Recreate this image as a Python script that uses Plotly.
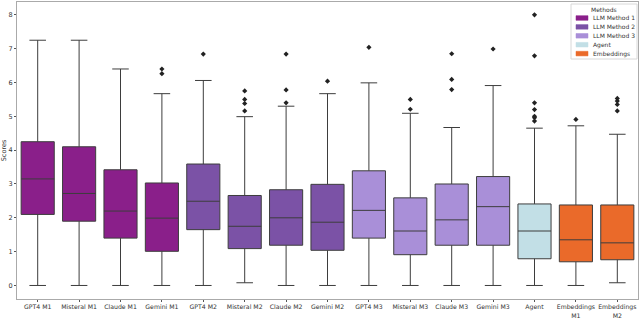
import plotly.graph_objects as go

categories = ["GPT4 M1", "Misteral M1", "Claude M1", "Gemini M1",
              "GPT4 M2", "Misteral M2", "Claude M2", "Gemini M2",
              "GPT4 M3", "Misteral M3", "Claude M3", "Gemini M3",
              "Agent", "Embeddings M1", "Embeddings M2"]
tick_labels = ["GPT4 M1", "Misteral M1", "Claude M1", "Gemini M1",
               "GPT4 M2", "Misteral M2", "Claude M2", "Gemini M2",
               "GPT4 M3", "Misteral M3", "Claude M3", "Gemini M3",
               "Agent", "Embeddings<br>M1", "Embeddings<br>M2"]
methods = ["LLM Method 1"] * 4 + ["LLM Method 2"] * 4 + ["LLM Method 3"] * 4 + ["Agent", "Embeddings", "Embeddings"]
legend_names = ["LLM Method 1", "LLM Method 2", "LLM Method 3", "Agent", "Embeddings"]

q1 = [2.10, 1.90, 1.40, 1.01, 1.65, 1.09, 1.19, 1.04, 1.40, 0.91, 1.19, 1.19, 0.79, 0.70, 0.76]
median = [3.15, 2.72, 2.20, 1.99, 2.49, 1.75, 2.00, 1.87, 2.22, 1.61, 1.94, 2.33, 1.61, 1.35, 1.26]
q3 = [4.25, 4.10, 3.42, 3.03, 3.59, 2.66, 2.83, 2.99, 3.39, 2.59, 3.00, 3.22, 2.41, 2.38, 2.38]
lower = [0.0, 0.0, 0.0, 0.0, 0.0, 0.08, 0.0, 0.0, 0.0, 0.0, 0.0, 0.0, 0.0, 0.0, 0.08]
upper = [7.25, 7.25, 6.40, 5.67, 6.06, 4.99, 5.30, 5.67, 5.99, 5.09, 4.67, 5.91, 4.65, 4.72, 4.47]
outliers = [[], [], [], [6.40, 6.26], [6.84], [5.75, 5.50, 5.38, 5.16],
            [6.84, 5.78, 5.40], [6.04], [7.04], [5.50, 5.21],
            [6.85, 6.09, 5.79], [6.99], [8.00, 6.79, 5.40, 5.20, 5.00, 4.96, 4.86],
            [4.91], [5.53, 5.45, 5.35, 5.16]]

colors = {"LLM Method 1": "#8a1f8a", "LLM Method 2": "#7b52a6", "LLM Method 3": "#a98fd8",
          "Agent": "#c2dfe6", "Embeddings": "#ea6a2a"}

W, H = 640, 318
ML, MR, MT, MB = 17, 2, 2, 19
PW, PH = W - ML - MR, H - MT - MB


def px(x):
    return (x - ML) / PW


def py(y):
    return (H - MB - y) / PH


fig = go.Figure()
for i, cat in enumerate(categories):
    m = methods[i]
    fig.add_trace(go.Box(
        x=[cat], q1=[q1[i]], median=[median[i]], q3=[q3[i]],
        lowerfence=[lower[i]], upperfence=[upper[i]],
        name=m, showlegend=False,
        fillcolor=colors[m], line=dict(color="#3d3d3d", width=1),
        width=0.8, whiskerwidth=0.5, boxpoints=False,
    ))
    if outliers[i]:
        fig.add_trace(go.Scatter(
            x=[cat] * len(outliers[i]), y=outliers[i], mode="markers",
            marker=dict(symbol="diamond", size=4, color="#222222"),
            showlegend=False, hoverinfo="y",
        ))

# manual legend (matplotlib-like compact legend)
shapes = [dict(type="rect", xref="paper", yref="paper",
               x0=px(571), x1=px(637), y0=py(59), y1=py(4),
               line=dict(color="#d8d8d8", width=1), fillcolor="rgba(255,255,255,0.85)", layer="above")]
annotations = [dict(text="Methods", xref="paper", yref="paper", x=px(604), y=py(10),
                    showarrow=False, xanchor="center", yanchor="middle",
                    font=dict(size=6, color="#333333"))]
for k, name in enumerate(legend_names):
    yc = 18 + k * 8.9
    shapes.append(dict(type="rect", xref="paper", yref="paper",
                       x0=px(576), x1=px(588), y0=py(yc + 2.3), y1=py(yc - 2.3),
                       line=dict(color=colors[name], width=0.5), fillcolor=colors[name], layer="above"))
    annotations.append(dict(text=name, xref="paper", yref="paper", x=px(591), y=py(yc),
                            showarrow=False, xanchor="left", yanchor="middle",
                            font=dict(size=6, color="#333333")))

fig.update_layout(
    width=W, height=H,
    margin=dict(l=ML, r=MR, t=MT, b=MB, autoexpand=False),
    paper_bgcolor="white", plot_bgcolor="white",
    font=dict(family="DejaVu Sans", size=7, color="#333333"),
    boxmode="overlay", showlegend=False,
    shapes=shapes, annotations=annotations,
)
fig.update_xaxes(
    type="category", categoryorder="array", categoryarray=categories,
    tickmode="array", tickvals=categories, ticktext=tick_labels, tickangle=0,
    automargin=False, ticklabelstandoff=0,
    range=[-0.5, 14.5], showgrid=False, showline=True, linecolor="#aaaaaa",
    mirror=True, ticks="outside", ticklen=2, tickcolor="#555555",
    tickfont=dict(size=6.2, color="#333333"),
)
fig.update_yaxes(
    range=[-0.4, 8.38], tickvals=list(range(9)), showgrid=False, zeroline=False,
    automargin=False,
    showline=True, linecolor="#aaaaaa", mirror=True, ticks="outside", ticklen=2,
    tickcolor="#555555", title=dict(text="Scores", standoff=2, font=dict(size=6.5, color="#333333")),
    tickfont=dict(size=6.5, color="#333333"),
)

fig.write_html("out.html", config={"displayModeBar": False},
               post_script="document.body.style.margin='0';document.body.style.padding='0';")
